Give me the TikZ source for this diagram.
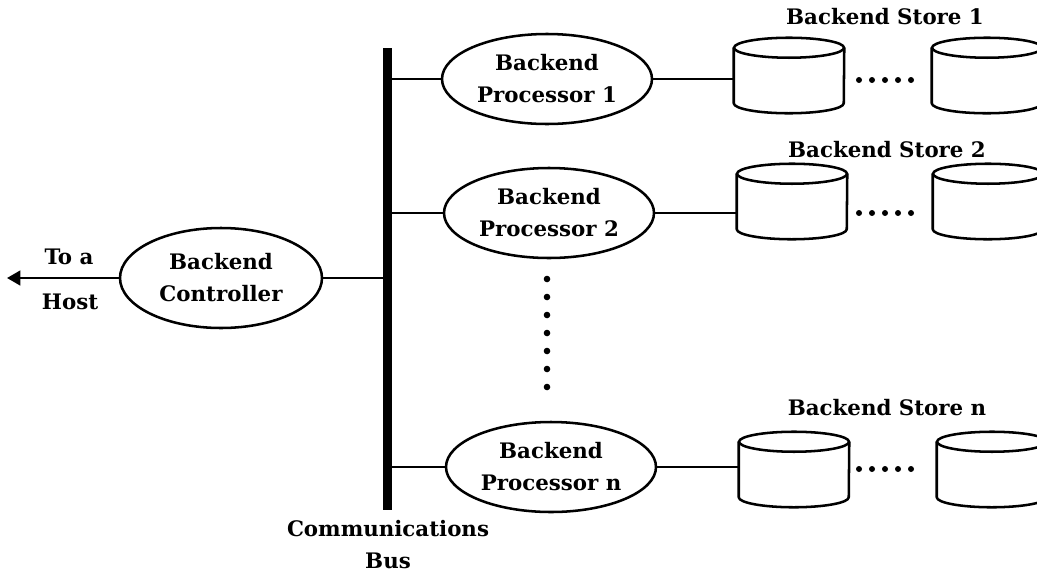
\documentclass[tikz,border=0pt]{standalone}
\usepackage{fontspec}
\setmainfont{DejaVu Serif}
\usetikzlibrary{arrows.meta,shapes.geometric}
\begin{document}
\begin{tikzpicture}[x=0.75pt,y=-0.75pt,
  every node/.style={font=\bfseries\fontsize{16}{24}\selectfont},
  line/.style={line width=1.9pt},
  proc/.style={ellipse,draw,line width=1.9pt,minimum width=157.5pt,minimum height=67.5pt,inner sep=0pt,align=center},
  ctrl/.style={ellipse,draw,line width=1.9pt,minimum width=151.5pt,minimum height=75pt,inner sep=0pt,align=center},
  store/.style={rectangle,minimum width=82.5pt,minimum height=56.25pt,inner sep=0pt},
  lbl/.style={inner sep=0pt,align=center}]
\clip (0,0) rectangle (1037,575);
\fill[white] (0,0) rectangle (1037,575);

% bus
\node[fill=black,minimum width=6.75pt,minimum height=346.5pt,inner sep=0pt] (bus) at (387.5,279) {};
\node[lbl] (buslbl) at (388,545) {Communications\\Bus};

% controller
\node[ctrl] (ctrl) at (221,278) {Backend\\Controller};
\coordinate (host) at (7,278);
\draw[line,-{Triangle[length=10pt,width=11pt]}] (ctrl.west) -- (host);
\node[lbl] (toa) at (69,257) {To a};
\node[lbl] (hostlbl) at (70,302) {Host};
\draw[line] (ctrl.east) -- (ctrl.east -| bus.west);

% processors
\node[proc] (p1) at (547,79) {Backend\\Processor 1};
\node[proc] (p2) at (549,213) {Backend\\Processor 2};
\node[proc] (pn) at (551,467) {Backend\\Processor n};
\foreach \p in {p1,p2,pn} \draw[line] (bus.east |- \p.west) -- (\p.west);

% vertical dots
\foreach \k in {0,...,6} \fill (547,279+18*\k) circle[radius=3.3];

% stores
\node[store] (s1a) at (789,75.5) {};
\node[store] (s1b) at (987,75.5) {};
\node[store] (s2a) at (792,201.5) {};
\node[store] (s2b) at (988,201.5) {};
\node[store] (sna) at (794,469.5) {};
\node[store] (snb) at (992,469.5) {};
\foreach \c in {s1a,s1b,s2a,s2b,sna,snb}{
  \draw[line,line join=round] ([yshift=-7.5pt]\c.north west) -- ([yshift=7.5pt]\c.south west)
     arc[start angle=180,end angle=0,x radius=55,y radius=10] -- ([yshift=-7.5pt]\c.north east);
  \draw[line] ([yshift=-7.5pt]\c.north) ellipse[x radius=55,y radius=10];
}
\draw[line] (p1.east) -- (p1.east -| s1a.west);
\draw[line] (p2.east) -- (p2.east -| s2a.west);
\draw[line] (pn.east) -- (pn.east -| sna.west);

% horizontal dots
\foreach \y in {80,213,469} \foreach \k in {0,...,4} \fill (859+13*\k,\y) circle[radius=3];

% store labels
\node[lbl] (l1) at (885,17) {Backend Store 1};
\node[lbl] (l2) at (887,150) {Backend Store 2};
\node[lbl] (ln) at (887,408) {Backend Store n};
\end{tikzpicture}
\end{document}
